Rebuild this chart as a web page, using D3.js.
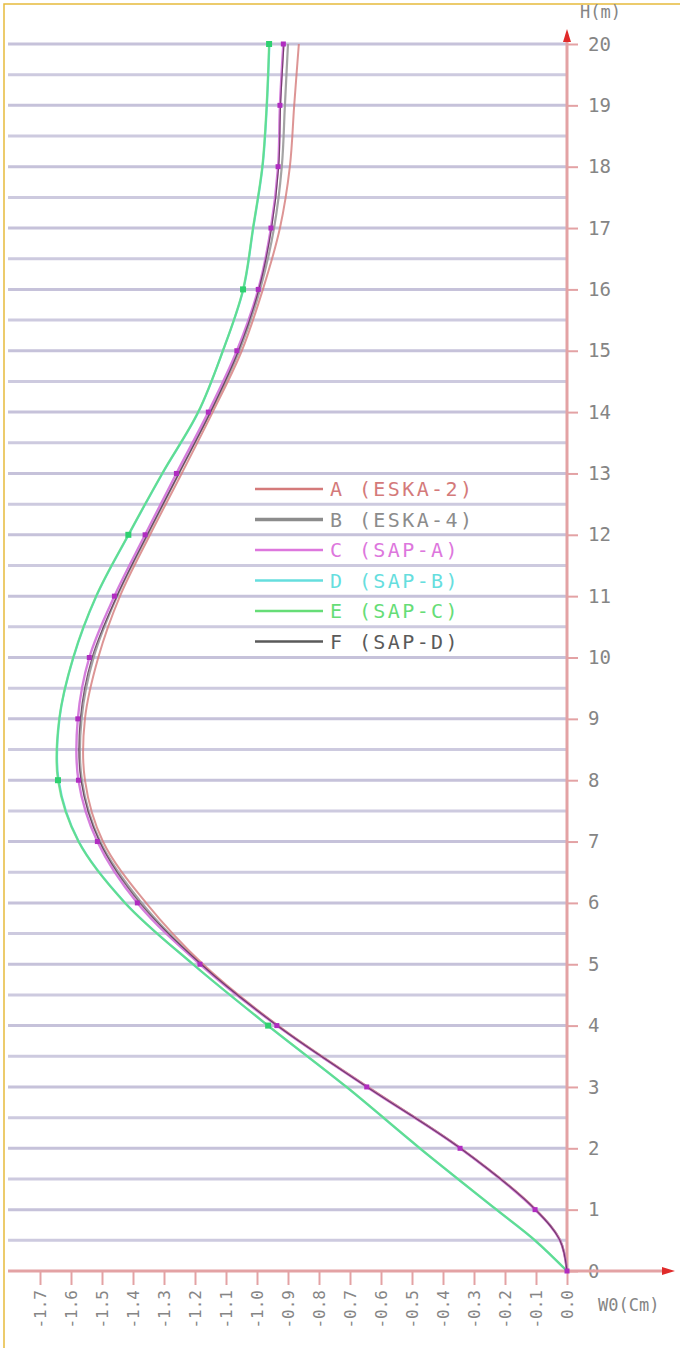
<!DOCTYPE html>
<html lang="en">
  <head>
    <meta charset="UTF-8" />
    <title>W0 - H</title>
    <style>
      body { margin: 0; background: #fff; }
      text { font-family: "DejaVu Sans Mono", monospace; }
    </style>
  </head>
  <body>
    <script src="https://cdn.jsdelivr.net/npm/d3@7"></script>
    <script>

      // heights in m, deflections W0 in cm
      var heights = [0, 0.5, 1, 2, 3, 4, 5, 6, 7, 8, 9, 10, 11, 12, 13, 14, 15, 16, 17, 18, 19, 20];

      var seriesA = [0, -0.022, -0.100, -0.342, -0.642, -0.932, -1.174, -1.358, -1.497, -1.555, -1.555, -1.512, -1.442, -1.345, -1.243, -1.143, -1.049, -0.981, -0.926, -0.894, -0.880, -0.865];
      var seriesB = [0, -0.022, -0.101, -0.343, -0.644, -0.934, -1.180, -1.372, -1.506, -1.565, -1.566, -1.527, -1.451, -1.353, -1.252, -1.150, -1.057, -0.990, -0.945, -0.920, -0.910, -0.900];
      var seriesC = [0, -0.023, -0.103, -0.345, -0.646, -0.936, -1.184, -1.386, -1.515, -1.576, -1.578, -1.541, -1.460, -1.361, -1.260, -1.157, -1.065, -0.996, -0.955, -0.932, -0.926, -0.915];
      var seriesD = [0, -0.104, -0.228, -0.475, -0.712, -0.965, -1.207, -1.425, -1.575, -1.640, -1.637, -1.592, -1.518, -1.414, -1.305, -1.189, -1.110, -1.044, -1.012, -0.982, -0.968, -0.960];
      var seriesE = [0, -0.103, -0.227, -0.474, -0.711, -0.964, -1.206, -1.426, -1.576, -1.642, -1.638, -1.593, -1.519, -1.415, -1.306, -1.190, -1.110, -1.045, -1.013, -0.983, -0.969, -0.961];
      var seriesF = [0, -0.023, -0.102, -0.344, -0.645, -0.935, -1.180, -1.378, -1.508, -1.568, -1.570, -1.532, -1.452, -1.354, -1.252, -1.150, -1.060, -0.994, -0.953, -0.930, -0.924, -0.913];

      var legendLabels = ["A (ESKA-2)", "B (ESKA-4)", "C (SAP-A)", "D (SAP-B)", "E (SAP-C)", "F (SAP-D)"];
      var legendColors = ["#d47a7a", "#8c8c8c", "#dd77dd", "#66dede", "#66dd77", "#5a5a5a"];

      var yTicks = d3.range(0, 21);
      var xTicks = d3.range(-17, 1).map(function(i) { return i / 10; });
      var gridLevels = d3.range(1, 41).map(function(i) { return i / 2; });
      var eMarks = [4, 8, 12, 16, 20];

      var w = 680, h = 1348;
      var x0 = 567, y0 = 1271;

      var svg = d3.select("body").append("svg")
                  .attr("width", w)
                  .attr("height", h);

      var xScale = d3.scaleLinear().domain([-1.7, 0]).range([40, x0]);
      var yScale = d3.scaleLinear().domain([0, 20]).range([y0, 44]);

      // frame
      svg.append("rect")
         .attr("x", 4).attr("y", 4)
         .attr("width", 720).attr("height", 1400)
         .attr("fill", "none")
         .attr("stroke", "#e6bb3c")
         .attr("stroke-width", 1.5);

      // horizontal grid
      svg.selectAll(".grid")
         .data(gridLevels)
         .enter()
         .append("line")
         .attr("class", "grid")
         .attr("x1", 8)
         .attr("x2", x0)
         .attr("y1", function(d) { return yScale(d); })
         .attr("y2", function(d) { return yScale(d); })
         .style("stroke", function(d) { return d % 1 === 0 ? "#c6c2da" : "#cdcadf"; })
         .style("stroke-width", 3);

      // axes
      var yAxis = d3.axisRight(yScale)
                    .tickValues(yTicks)
                    .tickSize(11)
                    .tickPadding(10)
                    .tickFormat(function(d) { return d; });

      var gy = svg.append("g")
                  .attr("transform", "translate(" + x0 + ",0)")
                  .call(yAxis);
      gy.select(".domain").remove();
      gy.selectAll("line").style("stroke", "#e3a2a4").style("stroke-width", 2);
      gy.selectAll("text")
        .style("font-size", "19px")
        .style("fill", "#858585");

      var xAxis = d3.axisBottom(xScale)
                    .tickValues(xTicks)
                    .tickSize(14)
                    .tickFormat(function(d) { return d.toFixed(1); });

      var gx = svg.append("g")
                  .attr("transform", "translate(0," + y0 + ")")
                  .call(xAxis);
      gx.select(".domain").remove();
      gx.selectAll("line").style("stroke", "#e3a2a4").style("stroke-width", 2);
      gx.selectAll("text")
        .attr("y", 0)
        .attr("x", -19)
        .attr("dy", "0.35em")
        .attr("transform", "rotate(-90)")
        .style("text-anchor", "end")
        .style("font-size", "16px")
        .style("fill", "#858585");

      svg.append("line")
         .attr("x1", x0).attr("x2", x0)
         .attr("y1", 36).attr("y2", y0 + 2)
         .style("stroke", "#e3a2a4")
         .style("stroke-width", 3);

      svg.append("line")
         .attr("x1", 8).attr("x2", 664)
         .attr("y1", y0).attr("y2", y0)
         .style("stroke", "#e3a2a4")
         .style("stroke-width", 3);

      svg.append("path")
         .attr("d", "M" + x0 + ",29 L" + (x0 - 4) + ",42 L" + (x0 + 4) + ",42 Z")
         .style("fill", "#e02a2a");

      svg.append("path")
         .attr("d", "M675," + y0 + " L662," + (y0 - 4) + " L662," + (y0 + 4) + " Z")
         .style("fill", "#e02a2a");

      svg.append("text")
         .text("H(m)")
         .attr("x", 580)
         .attr("y", 18)
         .style("font-size", "17px")
         .style("fill", "#858585");

      svg.append("text")
         .text("W0(Cm)")
         .attr("x", 598)
         .attr("y", 1311)
         .style("font-size", "17px")
         .style("fill", "#858585");

      // curves
      var line = d3.line()
                   .x(function(d) { return xScale(d[1]); })
                   .y(function(d) { return yScale(d[0]); })
                   .curve(d3.curveCatmullRom);

      function pairs(values) {
        return heights.map(function(hh, i) { return [hh, values[i]]; });
      }

      var curves = [
        { values: seriesD, color: "#66dede", width: 2.2, opacity: 1 },
        { values: seriesE, color: "#5fdc78", width: 2.2, opacity: 0.75 },
        { values: seriesB, color: "#9a9a9a", width: 2.2, opacity: 0.9 },
        { values: seriesA, color: "#d47a7a", width: 2, opacity: 0.8 },
        { values: seriesC, color: "#d070d8", width: 2.4, opacity: 0.9 },
        { values: seriesF, color: "#5a3050", width: 1.2, opacity: 0.8 }
      ];

      curves.forEach(function(c) {
        svg.append("path")
           .datum(pairs(c.values))
           .attr("d", line)
           .style("fill", "none")
           .style("stroke", c.color)
           .style("stroke-width", c.width)
           .style("stroke-opacity", c.opacity);
      });

      // markers
      svg.selectAll(".cmark")
         .data(pairs(seriesC).filter(function(d) { return d[0] % 1 === 0; }))
         .enter()
         .append("rect")
         .attr("class", "cmark")
         .attr("x", function(d) { return xScale(d[1]) - 2.5; })
         .attr("y", function(d) { return yScale(d[0]) - 2.5; })
         .attr("width", 5)
         .attr("height", 5)
         .style("fill", "#b02cc0");

      svg.selectAll(".emark")
         .data(pairs(seriesE).filter(function(d) { return eMarks.indexOf(d[0]) > -1; }))
         .enter()
         .append("rect")
         .attr("class", "emark")
         .attr("x", function(d) { return xScale(d[1]) - 3; })
         .attr("y", function(d) { return yScale(d[0]) - 3; })
         .attr("width", 6)
         .attr("height", 6)
         .style("fill", "#2fd070");

      // legend
      var legend = svg.selectAll(".legend")
                      .data(legendLabels)
                      .enter()
                      .append("g")
                      .attr("class", "legend")
                      .attr("transform", function(d, i) { return "translate(255," + (489 + i * 30.5) + ")"; });

      legend.append("line")
            .attr("x1", 0).attr("x2", 68)
            .attr("y1", 0).attr("y2", 0)
            .style("stroke", function(d, i) { return legendColors[i]; })
            .style("stroke-width", function(d, i) { return i === 1 ? 3.5 : 2.5; });

      legend.append("text")
            .text(function(d) { return d; })
            .attr("x", 75)
            .attr("y", 0)
            .attr("dy", "0.36em")
            .style("font-size", "20px")
            .style("letter-spacing", "2.4px")
            .style("fill", function(d, i) { return legendColors[i]; });

    </script>
  </body>
</html>
